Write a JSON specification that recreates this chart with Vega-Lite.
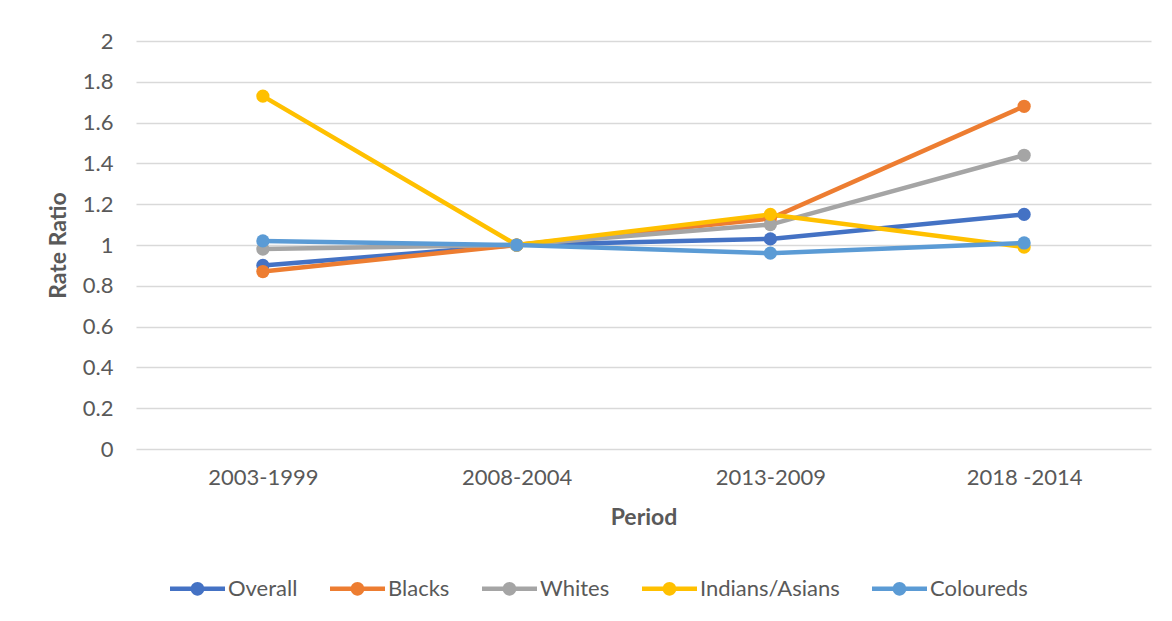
{
  "$schema": "https://vega.github.io/schema/vega-lite/v6.json",
  "autosize": "none",
  "width": 1015,
  "height": 408,
  "padding": {"left": 136, "top": 41, "right": 21, "bottom": 172},
  "background": "white",
  "config": {
    "font": "Lato",
    "view": {"stroke": null},
    "axis": {"labelFont": "Lato", "titleFont": "Lato", "labelColor": "#595959", "titleColor": "#595959"}
  },
  "data": {
    "values": [
      {"period": "2003-1999", "group": "Overall", "ratio": 0.90},
      {"period": "2008-2004", "group": "Overall", "ratio": 1.00},
      {"period": "2013-2009", "group": "Overall", "ratio": 1.03},
      {"period": "2018 -2014", "group": "Overall", "ratio": 1.15},
      {"period": "2003-1999", "group": "Blacks", "ratio": 0.87},
      {"period": "2008-2004", "group": "Blacks", "ratio": 1.00},
      {"period": "2013-2009", "group": "Blacks", "ratio": 1.13},
      {"period": "2018 -2014", "group": "Blacks", "ratio": 1.68},
      {"period": "2003-1999", "group": "Whites", "ratio": 0.98},
      {"period": "2008-2004", "group": "Whites", "ratio": 1.00},
      {"period": "2013-2009", "group": "Whites", "ratio": 1.10},
      {"period": "2018 -2014", "group": "Whites", "ratio": 1.44},
      {"period": "2003-1999", "group": "Indians/Asians", "ratio": 1.73},
      {"period": "2008-2004", "group": "Indians/Asians", "ratio": 1.00},
      {"period": "2013-2009", "group": "Indians/Asians", "ratio": 1.15},
      {"period": "2018 -2014", "group": "Indians/Asians", "ratio": 0.99},
      {"period": "2003-1999", "group": "Coloureds", "ratio": 1.02},
      {"period": "2008-2004", "group": "Coloureds", "ratio": 1.00},
      {"period": "2013-2009", "group": "Coloureds", "ratio": 0.96},
      {"period": "2018 -2014", "group": "Coloureds", "ratio": 1.01}
    ]
  },
  "encoding": {
    "x": {
      "field": "period", "type": "ordinal", "sort": null,
      "scale": {"type": "point", "padding": 0.5},
      "axis": {"title": "Period", "labelAngle": 0, "labelFontSize": 22, "labelPadding": 18, "ticks": false, "domain": false, "grid": false, "titleFontSize": 23, "titleFontWeight": "bold", "titlePadding": 18}
    },
    "y": {
      "field": "ratio", "type": "quantitative",
      "scale": {"domain": [0, 2], "nice": false, "zero": true},
      "axis": {"title": "Rate Ratio", "values": [0, 0.2, 0.4, 0.6, 0.8, 1, 1.2, 1.4, 1.6, 1.8, 2], "format": "~g", "labelFontSize": 22, "labelPadding": 23, "ticks": false, "domain": false, "grid": true, "gridColor": "#d9d9d9", "gridWidth": 1.5, "titleFontSize": 23, "titleFontWeight": "bold", "titlePadding": 12}
    },
    "color": {
      "field": "group", "type": "nominal",
      "scale": {"domain": ["Overall", "Blacks", "Whites", "Indians/Asians", "Coloureds"], "range": ["#4472C4", "#ED7D31", "#A5A5A5", "#FFC000", "#5B9BD5"]},
      "legend": {
        "title": null,
        "orient": "none",
        "direction": "horizontal",
        "legendX": 34,
        "legendY": 520,
        "symbolType": "M-1,-0.08H1V0.08H-1Z M-0.25,0A0.25,0.25 0 1,1 0.25,0A0.25,0.25 0 1,1 -0.25,0Z",
        "symbolSize": 3025,
        "symbolStrokeWidth": 0,
        "labelFontSize": 22,
        "labelColor": "#595959",
        "labelFont": "Lato",
        "labelOffset": 3,
        "columnPadding": 32,
        "encode": {"symbols": {"update": {"fill": {"scale": "color", "field": "value"}, "opacity": {"value": 1}, "strokeWidth": {"value": 0}}}}
      }
    }
  },
  "layer": [
    {"mark": {"type": "line", "strokeWidth": 4.5}, "encoding": {"detail": {"field": "group"}}},
    {"mark": {"type": "circle", "size": 175, "opacity": 1}}
  ]
}
